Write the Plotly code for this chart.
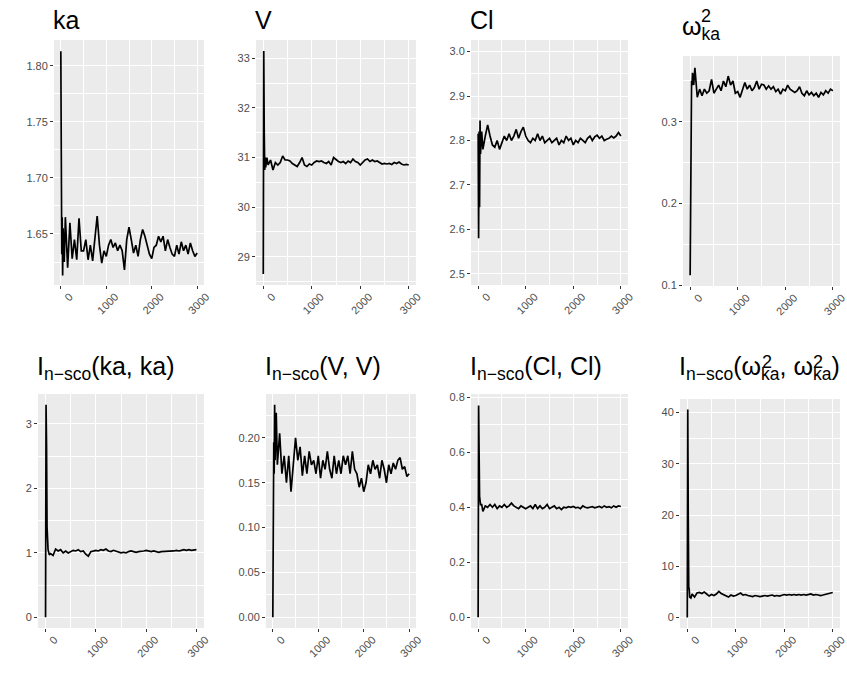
import plotly.graph_objects as go

W, H = 847, 686

# iteration index of the stored chain values
iters = [0, 10, 20, 30, 40, 50, 75, 100,
         150, 200, 250, 300, 350, 400, 450,
         500, 550, 600, 650, 700, 750, 800, 850, 900, 950,
         1000, 1050, 1100, 1150, 1200, 1250, 1300, 1350, 1400, 1450,
         1500, 1550, 1600, 1650, 1700, 1750, 1800, 1850, 1900, 1950,
         2000, 2050, 2100, 2150, 2200, 2250, 2300, 2350, 2400, 2450,
         2500, 2550, 2600, 2650, 2700, 2750, 2800, 2850, 2900, 2950,
         3000]

ka = [1.813, 1.682, 1.632, 1.665, 1.613, 1.655, 1.625, 1.665,
      1.62, 1.66, 1.628, 1.645, 1.627, 1.664, 1.635,
      1.635, 1.645, 1.627, 1.64, 1.626, 1.645, 1.666, 1.64, 1.624, 1.635,
      1.63, 1.64, 1.645, 1.638, 1.642, 1.635, 1.64, 1.635, 1.618, 1.645,
      1.656, 1.645, 1.633, 1.64, 1.63, 1.645, 1.654, 1.648, 1.64, 1.632,
      1.628, 1.638, 1.64, 1.648, 1.643, 1.648, 1.635, 1.645, 1.638, 1.632,
      1.63, 1.64, 1.632, 1.643, 1.635, 1.64, 1.632, 1.642, 1.635, 1.63,
      1.633]

V = [28.65, 33.15, 31.5, 30.75, 31.0, 30.8, 31.0, 30.85,
     30.95, 30.75, 30.9, 30.85, 30.9, 31.03, 30.95,
     30.95, 30.93, 30.88, 30.85, 30.82, 30.9, 31.0, 30.85, 30.82, 30.87,
     30.85, 30.9, 30.93, 30.92, 30.93, 30.9, 30.88, 30.92, 30.85, 31.0,
     30.95, 30.92, 30.9, 30.92, 30.88, 30.93, 30.9, 30.97, 30.92, 30.9,
     30.85, 30.9, 30.95, 30.97, 30.92, 30.95, 30.92, 30.93, 30.9, 30.87,
     30.88, 30.87, 30.88, 30.86, 30.9, 30.88, 30.91, 30.87, 30.85, 30.86,
     30.85]

Cl = [2.815, 2.58, 2.82, 2.65, 2.845, 2.77, 2.82, 2.78,
      2.81, 2.835, 2.81, 2.79, 2.785, 2.8, 2.78,
      2.795, 2.81, 2.8, 2.815, 2.8, 2.81, 2.825, 2.805, 2.82, 2.83,
      2.81, 2.8, 2.795, 2.805, 2.8, 2.815, 2.8, 2.81, 2.795, 2.8,
      2.805, 2.795, 2.8, 2.805, 2.79, 2.8, 2.795, 2.81, 2.8, 2.805,
      2.79, 2.8, 2.795, 2.805, 2.8, 2.795, 2.805, 2.81, 2.8, 2.808,
      2.812, 2.805, 2.81, 2.8, 2.803, 2.805, 2.81, 2.806, 2.81, 2.818,
      2.81]

omega2_ka = [0.112, 0.2, 0.33, 0.35, 0.345, 0.36, 0.345, 0.366,
             0.33, 0.34, 0.332, 0.34, 0.335, 0.338, 0.352,
             0.335, 0.34, 0.345, 0.338, 0.35, 0.343, 0.356, 0.345, 0.35, 0.335,
             0.337, 0.33, 0.34, 0.348, 0.34, 0.345, 0.338, 0.342, 0.35, 0.34,
             0.346, 0.345, 0.34, 0.344, 0.34, 0.343, 0.337, 0.34, 0.334, 0.34,
             0.338, 0.345, 0.34, 0.338, 0.336, 0.338, 0.343, 0.335, 0.332, 0.338,
             0.333, 0.336, 0.332, 0.335, 0.33, 0.336, 0.333, 0.338, 0.335, 0.34,
             0.338]

I_ka = [0, 3.3, 2.65, 1.4, 1.1, 1.05, 0.97, 0.99,
        0.96, 1.06, 1.03, 1.05, 1.0, 1.03, 1.0,
        1.02, 1.04, 1.03, 1.05, 1.02, 1.03, 0.98, 0.95, 1.02, 1.03,
        1.04, 1.03, 1.05, 1.04, 1.06, 1.03, 1.02, 1.04, 1.03, 1.02,
        1.0, 1.01, 1.0, 1.02, 1.03, 1.02, 1.01, 1.02, 1.02, 1.03,
        1.04, 1.03, 1.02, 1.03, 1.02, 1.01, 1.02, 1.02, 1.03, 1.02,
        1.02, 1.03, 1.04, 1.03, 1.04, 1.05, 1.04, 1.05, 1.04, 1.05,
        1.05]

I_V = [0, 0.145, 0.195, 0.16, 0.237, 0.175, 0.228, 0.17,
       0.205, 0.16, 0.18, 0.15, 0.18, 0.14, 0.17,
       0.2, 0.175, 0.19, 0.158, 0.18, 0.16, 0.185, 0.17, 0.175, 0.16,
       0.18, 0.155, 0.175, 0.165, 0.185, 0.165, 0.155, 0.18, 0.16, 0.175,
       0.16, 0.18, 0.17, 0.18, 0.16, 0.185, 0.165, 0.16, 0.145, 0.155,
       0.14, 0.15, 0.17, 0.16, 0.175, 0.165, 0.17, 0.155, 0.175, 0.165,
       0.15, 0.17, 0.16, 0.172, 0.165, 0.175, 0.178, 0.165, 0.168, 0.157,
       0.16]

I_Cl = [0, 0.77, 0.6, 0.44, 0.415, 0.41, 0.41, 0.385,
        0.405, 0.4, 0.41, 0.4, 0.41, 0.395, 0.405,
        0.4, 0.41, 0.4, 0.405, 0.415, 0.405, 0.4, 0.395, 0.405, 0.4,
        0.395, 0.4, 0.405, 0.395, 0.41, 0.395, 0.405, 0.395, 0.4, 0.41,
        0.395, 0.4, 0.405, 0.395, 0.4, 0.392, 0.4, 0.398, 0.402, 0.4,
        0.403, 0.398, 0.4, 0.395, 0.405, 0.4, 0.398, 0.4, 0.402, 0.398,
        0.4, 0.403, 0.398, 0.405, 0.4, 0.402, 0.398, 0.405, 0.4, 0.405,
        0.403]

I_omega = [0, 40.6, 20, 6, 5.5, 4.0, 3.8, 4.6,
           4.0, 4.8, 4.9, 4.7, 5.0, 4.6, 4.2,
           4.5, 4.3, 4.6, 5.1, 4.7, 4.5, 4.2, 4.0, 4.4, 4.2,
           4.3, 4.6, 4.8, 4.4, 4.5, 4.3, 4.2, 4.1, 4.3, 4.2,
           4.1, 4.2, 4.3, 4.2, 4.3, 4.4, 4.2, 4.3, 4.2, 4.4,
           4.5, 4.4, 4.5, 4.4, 4.5, 4.4, 4.5, 4.4, 4.5, 4.4,
           4.5, 4.6, 4.4, 4.5, 4.4, 4.3, 4.4, 4.5, 4.6, 4.8,
           4.9]

series = [ka, V, Cl, omega2_ka, I_ka, I_V, I_Cl, I_omega]
titles = ["ka", "V", "Cl", "ω<sub>ka</sub>",
          "I<sub>n−sco</sub>(ka, ka)", "I<sub>n−sco</sub>(V, V)",
          "I<sub>n−sco</sub>(Cl, Cl)", "I<sub>n−sco</sub>(ω<sub>ka</sub>, ω<sub>ka</sub>)"]

# panel boxes in pixels: left, right, top, bottom
boxes = [(54, 204, 40, 285), (256, 416, 40, 285), (471, 628, 40, 285), (683, 840, 56, 286),
         (38, 204, 394, 628), (266, 416, 394, 628), (471, 628, 394, 628), (680, 840, 399, 628)]
yranges = [(1.6045, 1.823), (28.43, 33.37), (2.475, 3.026), (0.0988, 0.3806),
           (-0.165, 3.465), (-0.0119, 0.2489), (-0.0387, 0.8117), (-2.03, 42.63)]
ydticks = [0.05, 1, 0.1, 0.1, 1, 0.05, 0.2, 10]
yformats = [".2f", "d", ".1f", ".1f", "d", ".2f", ".1f", "d"]

fig = go.Figure()
layout = dict(width=W, height=H, margin=dict(l=0, r=0, t=0, b=0, autoexpand=False),
              paper_bgcolor="white", plot_bgcolor="#EBEBEB", showlegend=False,
              font=dict(family="Liberation Sans, Arial", color="#4D4D4D"))
annotations = []

for i, (ys, box) in enumerate(zip(series, boxes)):
    n = i + 1
    xa, ya = f"x{n}", f"y{n}"
    fig.add_trace(go.Scatter(x=iters, y=ys, mode="lines", xaxis=xa, yaxis=ya,
                             line=dict(color="black", width=1.7)))
    l, r, t, b = box
    grid = dict(showgrid=True, gridcolor="white", gridwidth=1.2, zeroline=False,
                showline=False, ticks="outside", ticklen=3, tickcolor="#333333",
                tickwidth=1, automargin=False, ticklabeloverflow="allow",
                tickfont=dict(size=11, color="#4D4D4D"))
    layout[f"xaxis{n}"] = dict(grid, domain=[l / W, r / W], anchor=ya, range=[-150, 3150],
                               tick0=0, dtick=1000, tickangle=-45, ticklabelshift=9,
                               ticklabelstandoff=-3,
                               minor=dict(tick0=500, dtick=1000, showgrid=True,
                                          gridcolor="white", gridwidth=0.6))
    y0, y1 = yranges[i]
    d = ydticks[i]
    layout[f"yaxis{n}"] = dict(grid, domain=[1 - b / H, 1 - t / H], anchor=xa, range=[y0, y1],
                               tick0=0, dtick=d, tickformat=yformats[i],
                               minor=dict(tick0=d / 2, dtick=d, showgrid=True,
                                          gridcolor="white", gridwidth=0.6))
    ty = 20 if i < 4 else 368
    if i == 3:
        ty = 28
    annotations.append(dict(text=titles[i], x=(l - 3) / W, y=1 - ty / H, xref="paper",
                            yref="paper", xanchor="left", yanchor="middle", showarrow=False,
                            font=dict(size=25, color="black")))

# superscript "2" stacked above the "ka" subscripts
for px, py in [(706, 16), (767, 362), (818, 362)]:
    annotations.append(dict(text="2", x=px / W, y=1 - py / H, xref="paper", yref="paper",
                            xanchor="center", yanchor="middle", showarrow=False,
                            font=dict(size=18, color="black")))

layout["annotations"] = annotations
fig.update_layout(**layout)
fig.write_html("out.html", config={"displayModeBar": False},
               post_script="document.body.style.margin='0';")
